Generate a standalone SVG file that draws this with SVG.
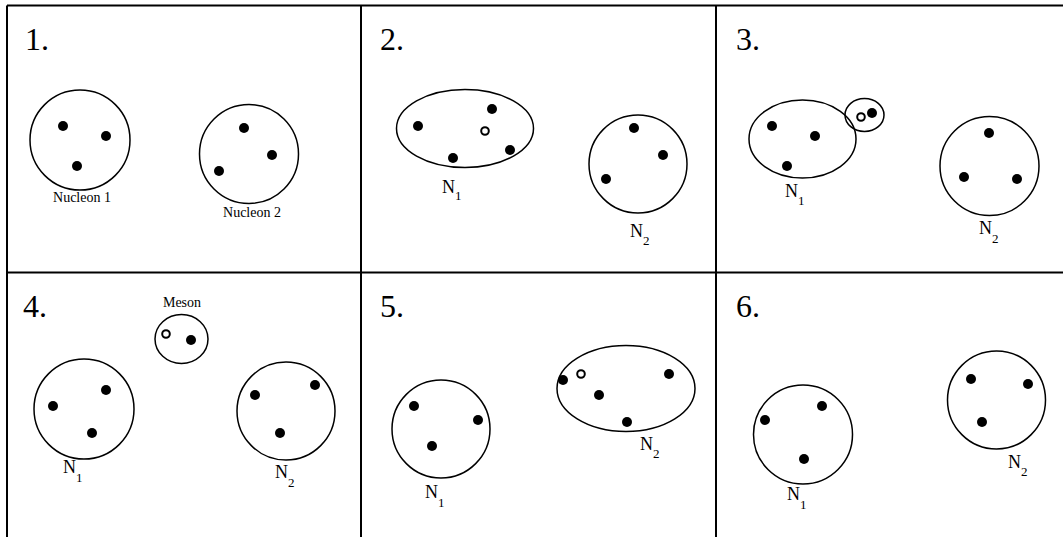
<svg xmlns="http://www.w3.org/2000/svg" width="1063" height="537" viewBox="0 0 1063 537">
<style>
.grid{stroke:#000;stroke-width:2;fill:none}
.shell{stroke:#000;stroke-width:1.5;fill:none}
.q{fill:#000}
.aq{fill:#fff;stroke:#000;stroke-width:2}
.num{font-family:"Liberation Serif",serif;font-size:32px;fill:#000}
.lbl{font-family:"Liberation Serif",serif;font-size:18px;fill:#000}
.sub{font-family:"Liberation Serif",serif;font-size:13px;fill:#000}
.small{font-family:"Liberation Serif",serif;font-size:14px;fill:#000;text-anchor:middle}
</style>
<rect width="1063" height="537" fill="#fff"/>
<g id="connectors" class="grid">
<line x1="7" y1="5.5" x2="1063" y2="5.5"/>
<line x1="7" y1="5.5" x2="7" y2="537"/>
<line x1="361" y1="5.5" x2="361" y2="537"/>
<line x1="716" y1="5.5" x2="716" y2="537"/>
<line x1="7" y1="272.5" x2="1063" y2="272.5"/>
</g>
<g id="panel1">
<text class="num" x="25" y="50">1.</text>
<g id="p1-nucleon1">
<circle class="shell" cx="80" cy="140" r="50"/>
<circle class="q" cx="63" cy="126" r="5"/><circle class="q" cx="106" cy="136" r="5"/><circle class="q" cx="77" cy="166" r="5"/>
<text class="small" x="82" y="202">Nucleon 1</text>
</g>
<g id="p1-nucleon2">
<circle class="shell" cx="249" cy="154" r="49.5"/>
<circle class="q" cx="244" cy="128" r="5"/><circle class="q" cx="272" cy="155" r="5"/><circle class="q" cx="219" cy="171" r="5"/>
<text class="small" x="252" y="217">Nucleon 2</text>
</g>
</g>
<g id="panel2">
<text class="num" x="380" y="50">2.</text>
<g id="p2-n1">
<ellipse class="shell" cx="465" cy="128.5" rx="68.5" ry="39"/>
<circle class="q" cx="418" cy="126" r="5"/><circle class="q" cx="492" cy="109" r="5"/><circle class="q" cx="510" cy="150" r="5"/><circle class="q" cx="453" cy="158" r="5"/>
<circle class="aq" cx="485" cy="131" r="3.8"/>
<text class="lbl" x="442" y="193">N<tspan class="sub" dy="7">1</tspan></text>
</g>
<g id="p2-n2">
<circle class="shell" cx="638" cy="164" r="49"/>
<circle class="q" cx="634" cy="128" r="5"/><circle class="q" cx="663" cy="155" r="5"/><circle class="q" cx="606" cy="179" r="5"/>
<text class="lbl" x="630" y="237">N<tspan class="sub" dy="8">2</tspan></text>
</g>
</g>
<g id="panel3">
<text class="num" x="736" y="50">3.</text>
<g id="p3-n1">
<ellipse class="shell" cx="802.5" cy="139" rx="53.5" ry="39"/>
<circle class="q" cx="772" cy="126" r="5"/><circle class="q" cx="815" cy="136" r="5"/><circle class="q" cx="787" cy="166" r="5"/>
<text class="lbl" x="785" y="197">N<tspan class="sub" dy="8">1</tspan></text>
</g>
<g id="p3-meson">
<ellipse class="shell" cx="864.5" cy="115" rx="19.5" ry="16.5"/>
<circle class="aq" cx="861" cy="117" r="3.8"/>
<circle class="q" cx="872" cy="113" r="5"/>
</g>
<g id="p3-n2">
<circle class="shell" cx="989.5" cy="166" r="49.5"/>
<circle class="q" cx="989" cy="133" r="5"/><circle class="q" cx="964" cy="177" r="5"/><circle class="q" cx="1017" cy="179" r="5"/>
<text class="lbl" x="979" y="234">N<tspan class="sub" dy="9">2</tspan></text>
</g>
</g>
<g id="panel4">
<text class="num" x="23" y="317">4.</text>
<g id="p4-meson">
<ellipse class="shell" cx="181.5" cy="339" rx="26.5" ry="24.5"/>
<circle class="aq" cx="166" cy="334" r="3.8"/>
<circle class="q" cx="191" cy="340" r="5"/>
<text class="small" x="182" y="307">Meson</text>
</g>
<g id="p4-n1">
<circle class="shell" cx="84" cy="409" r="50"/>
<circle class="q" cx="106" cy="390" r="5"/><circle class="q" cx="53" cy="406" r="5"/><circle class="q" cx="92" cy="433" r="5"/>
<text class="lbl" x="63" y="473">N<tspan class="sub" dy="9">1</tspan></text>
</g>
<g id="p4-n2">
<circle class="shell" cx="286" cy="411" r="49"/>
<circle class="q" cx="315" cy="385" r="5"/><circle class="q" cx="255" cy="395" r="5"/><circle class="q" cx="280" cy="433" r="5"/>
<text class="lbl" x="275" y="478">N<tspan class="sub" dy="9">2</tspan></text>
</g>
</g>
<g id="panel5">
<text class="num" x="380" y="317">5.</text>
<g id="p5-n1">
<circle class="shell" cx="441" cy="429" r="49"/>
<circle class="q" cx="414" cy="406" r="5"/><circle class="q" cx="478" cy="420" r="5"/><circle class="q" cx="432" cy="446" r="5"/>
<text class="lbl" x="425" y="498">N<tspan class="sub" dy="9">1</tspan></text>
</g>
<g id="p5-n2">
<ellipse class="shell" cx="626" cy="388.5" rx="69" ry="43"/>
<circle class="q" cx="563" cy="380" r="5"/><circle class="q" cx="669" cy="374" r="5"/><circle class="q" cx="599" cy="395" r="5"/><circle class="q" cx="627" cy="422" r="5"/>
<circle class="aq" cx="581" cy="374" r="3.8"/>
<text class="lbl" x="640" y="450">N<tspan class="sub" dy="8">2</tspan></text>
</g>
</g>
<g id="panel6">
<text class="num" x="736" y="317">6.</text>
<g id="p6-n1">
<circle class="shell" cx="803" cy="434.5" r="49.5"/>
<circle class="q" cx="822" cy="406" r="5"/><circle class="q" cx="765" cy="420" r="5"/><circle class="q" cx="804" cy="459" r="5"/>
<text class="lbl" x="787" y="500">N<tspan class="sub" dy="9">1</tspan></text>
</g>
<g id="p6-n2">
<circle class="shell" cx="996.5" cy="400" r="49"/>
<circle class="q" cx="971" cy="379" r="5"/><circle class="q" cx="1028" cy="384" r="5"/><circle class="q" cx="982" cy="422" r="5"/>
<text class="lbl" x="1008" y="468">N<tspan class="sub" dy="8">2</tspan></text>
</g>
</g>
</svg>
